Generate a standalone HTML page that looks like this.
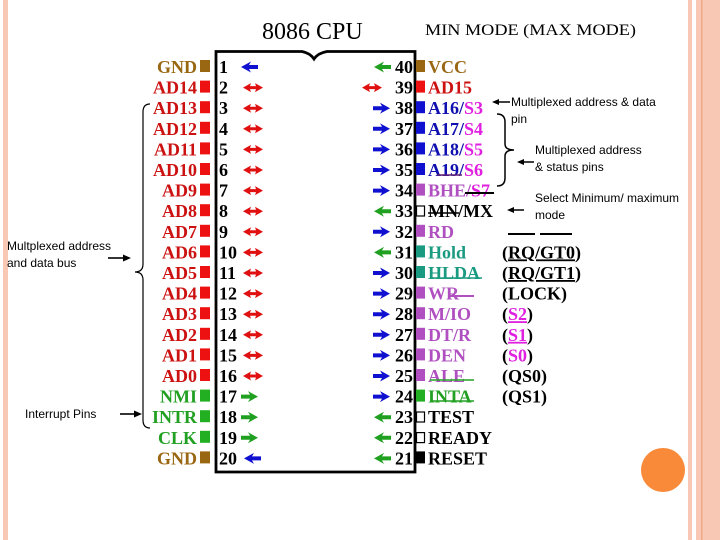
<!DOCTYPE html>
<html><head><meta charset="utf-8"><style>
html,body{margin:0;padding:0;background:#fff;}
svg{display:block}
text{font-family:"Liberation Serif",serif;}
.l{font-weight:bold;font-size:18px;text-anchor:end}
.r{font-weight:bold;font-size:18px}
.n{font-weight:bold;font-size:18px;fill:#000}
.s{font-family:"Liberation Sans",sans-serif;font-size:12px;fill:#000}
</style></head><body>
<svg width="720" height="540" viewBox="0 0 720 540" xmlns="http://www.w3.org/2000/svg">
<defs>
<g id="bi"><path d="M0 0 L8 -4.5 L7 -1.5 L13 -1.5 L12 -4.5 L20 0 L12 4.5 L13 1.5 L7 1.5 L8 4.5 Z" fill="#e01010"/></g>
<g id="rb"><path d="M0 -2 L9 -2 L7 -5.5 L17 0 L7 5.5 L9 2 L0 2 Z" fill="#1010d0"/></g>
<g id="rg"><path d="M0 -2 L9 -2 L7 -5.5 L17 0 L7 5.5 L9 2 L0 2 Z" fill="#20a020"/></g>
<g id="lg"><path d="M17 -2 L8 -2 L10 -5.5 L0 0 L10 5.5 L8 2 L17 2 Z" fill="#20a020"/></g>
<g id="lb"><path d="M17 -2 L8 -2 L10 -5.5 L0 0 L10 5.5 L8 2 L17 2 Z" fill="#1010d0"/></g>
</defs>
<!-- decorations -->
<rect x="3" y="0" width="5" height="540" fill="#f8c8b4"/>
<rect x="688" y="0" width="4" height="540" fill="#f8c8b4"/>
<rect x="696" y="0" width="24" height="540" fill="#f8c8b4"/>
<rect x="701" y="0" width="1.5" height="540" fill="#f0a888"/>
<circle cx="663" cy="470" r="22" fill="#f98a3a"/>
<!-- titles -->
<text x="262" y="39" font-size="24" fill="#000">8086 CPU</text>
<text x="425" y="35" font-size="15.5" fill="#000" textLength="211" lengthAdjust="spacingAndGlyphs">MIN MODE (MAX MODE)</text>
<!-- chip -->
<path d="M216 51.5 L302 51.5 Q310 53 314 59 Q318 53 327 51.5 L415 51.5 L415 472 L216 472 Z" fill="none" stroke="#000" stroke-width="2.8"/>
<!-- left labels -->
<text class="l" x="197" y="73" fill="#996611">GND</text>
<text class="l" x="197" y="93.6" fill="#cc1111">AD14</text>
<text class="l" x="197" y="114.2" fill="#cc1111">AD13</text>
<text class="l" x="197" y="134.8" fill="#cc1111">AD12</text>
<text class="l" x="197" y="155.4" fill="#cc1111">AD11</text>
<text class="l" x="197" y="176" fill="#cc1111">AD10</text>
<text class="l" x="197" y="196.6" fill="#cc1111">AD9</text>
<text class="l" x="197" y="217.2" fill="#cc1111">AD8</text>
<text class="l" x="197" y="237.8" fill="#cc1111">AD7</text>
<text class="l" x="197" y="258.4" fill="#cc1111">AD6</text>
<text class="l" x="197" y="279" fill="#cc1111">AD5</text>
<text class="l" x="197" y="299.6" fill="#cc1111">AD4</text>
<text class="l" x="197" y="320.2" fill="#cc1111">AD3</text>
<text class="l" x="197" y="340.8" fill="#cc1111">AD2</text>
<text class="l" x="197" y="361.4" fill="#cc1111">AD1</text>
<text class="l" x="197" y="382" fill="#cc1111">AD0</text>
<text class="l" x="197" y="402.6" fill="#22a022">NMI</text>
<text class="l" x="197" y="423.2" fill="#22a022">INTR</text>
<text class="l" x="197" y="443.8" fill="#22a022">CLK</text>
<text class="l" x="197" y="464.4" fill="#996611">GND</text>
<!-- left squares -->
<rect x="200" y="60" width="10" height="12" fill="#996611"/>
<g fill="#ee1111">
<rect x="200" y="80.6" width="10" height="12"/><rect x="200" y="101.2" width="10" height="12"/>
<rect x="200" y="121.8" width="10" height="12"/><rect x="200" y="142.4" width="10" height="12"/>
<rect x="200" y="163" width="10" height="12"/><rect x="200" y="183.6" width="10" height="12"/>
<rect x="200" y="204.2" width="10" height="12"/><rect x="200" y="224.8" width="10" height="12"/>
<rect x="200" y="245.4" width="10" height="12"/><rect x="200" y="266" width="10" height="12"/>
<rect x="200" y="286.6" width="10" height="12"/><rect x="200" y="307.2" width="10" height="12"/>
<rect x="200" y="327.8" width="10" height="12"/><rect x="200" y="348.4" width="10" height="12"/>
<rect x="200" y="369" width="10" height="12"/>
</g>
<g fill="#22b022"><rect x="200" y="389.6" width="10" height="12"/><rect x="200" y="410.2" width="10" height="12"/><rect x="200" y="430.8" width="10" height="12"/></g>
<rect x="200" y="451.4" width="10" height="12" fill="#996611"/>
<!-- left numbers -->
<text class="n" x="219" y="73">1</text><text class="n" x="219" y="93.6">2</text><text class="n" x="219" y="114.2">3</text>
<text class="n" x="219" y="134.8">4</text><text class="n" x="219" y="155.4">5</text><text class="n" x="219" y="176">6</text>
<text class="n" x="219" y="196.6">7</text><text class="n" x="219" y="217.2">8</text><text class="n" x="219" y="237.8">9</text>
<text class="n" x="219" y="258.4">10</text><text class="n" x="219" y="279">11</text><text class="n" x="219" y="299.6">12</text>
<text class="n" x="219" y="320.2">13</text><text class="n" x="219" y="340.8">14</text><text class="n" x="219" y="361.4">15</text>
<text class="n" x="219" y="382">16</text><text class="n" x="219" y="402.6">17</text><text class="n" x="219" y="423.2">18</text>
<text class="n" x="219" y="443.8">19</text><text class="n" x="219" y="464.4">20</text>
<!-- left arrows -->
<use href="#lb" x="241" y="67"/>
<use href="#bi" x="243" y="87.6"/><use href="#bi" x="243" y="108.2"/><use href="#bi" x="243" y="128.8"/>
<use href="#bi" x="243" y="149.4"/><use href="#bi" x="243" y="170"/><use href="#bi" x="243" y="190.6"/>
<use href="#bi" x="243" y="211.2"/><use href="#bi" x="243" y="231.8"/><use href="#bi" x="243" y="252.4"/>
<use href="#bi" x="243" y="273"/><use href="#bi" x="243" y="293.6"/><use href="#bi" x="243" y="314.2"/>
<use href="#bi" x="243" y="334.8"/><use href="#bi" x="243" y="355.4"/><use href="#bi" x="243" y="376"/>
<use href="#rg" x="241" y="396.6"/><use href="#rg" x="241" y="417.2"/><use href="#rg" x="241" y="437.8"/>
<use href="#lb" x="244" y="458.4"/>
<!-- right numbers -->
<g text-anchor="end">
<text class="n" x="413" y="73">40</text><text class="n" x="413" y="93.6">39</text><text class="n" x="413" y="114.2">38</text>
<text class="n" x="413" y="134.8">37</text><text class="n" x="413" y="155.4">36</text><text class="n" x="413" y="176">35</text>
<text class="n" x="413" y="196.6">34</text><text class="n" x="413" y="217.2">33</text><text class="n" x="413" y="237.8">32</text>
<text class="n" x="413" y="258.4">31</text><text class="n" x="413" y="279">30</text><text class="n" x="413" y="299.6">29</text>
<text class="n" x="413" y="320.2">28</text><text class="n" x="413" y="340.8">27</text><text class="n" x="413" y="361.4">26</text>
<text class="n" x="413" y="382">25</text><text class="n" x="413" y="402.6">24</text><text class="n" x="413" y="423.2">23</text>
<text class="n" x="413" y="443.8">22</text><text class="n" x="413" y="464.4">21</text>
</g>
<!-- right arrows -->
<use href="#lg" x="374" y="67"/>
<use href="#bi" x="362" y="87.6"/>
<use href="#rb" x="373" y="108.2"/><use href="#rb" x="373" y="128.8"/><use href="#rb" x="373" y="149.4"/>
<use href="#rb" x="373" y="170"/><use href="#rb" x="373" y="190.6"/>
<use href="#lg" x="374" y="211.2"/>
<use href="#rb" x="373" y="231.8"/>
<use href="#lg" x="374" y="252.4"/>
<use href="#rb" x="373" y="273"/><use href="#rb" x="373" y="293.6"/><use href="#rb" x="373" y="314.2"/>
<use href="#rb" x="373" y="334.8"/><use href="#rb" x="373" y="355.4"/><use href="#rb" x="373" y="376"/>
<use href="#rb" x="373" y="396.6"/>
<use href="#lg" x="374" y="417.2"/><use href="#lg" x="374" y="437.8"/><use href="#lg" x="374" y="458.4"/>
<!-- right squares -->
<rect x="416" y="60" width="9" height="12" fill="#996611"/>
<rect x="416" y="80.6" width="9" height="12" fill="#ee1111"/>
<g fill="#1010d0"><rect x="416" y="101.2" width="9" height="12"/><rect x="416" y="121.8" width="9" height="12"/><rect x="416" y="142.4" width="9" height="12"/><rect x="416" y="163" width="9" height="12"/></g>
<rect x="416" y="183.6" width="9" height="12" fill="#b050c0"/>
<rect x="416.5" y="206" width="8" height="10" fill="#fff" stroke="#000" stroke-width="1.2"/>
<rect x="416" y="224.8" width="9" height="12" fill="#b050c0"/>
<rect x="416" y="245.4" width="9" height="12" fill="#1a9a80"/>
<rect x="416" y="266" width="9" height="12" fill="#1a9a80"/>
<g fill="#b050c0"><rect x="416" y="286.6" width="9" height="12"/><rect x="416" y="307.2" width="9" height="12"/><rect x="416" y="327.8" width="9" height="12"/><rect x="416" y="348.4" width="9" height="12"/><rect x="416" y="369" width="9" height="12"/></g>
<rect x="416" y="389.6" width="9" height="12" fill="#22b022"/>
<rect x="416.5" y="412" width="8" height="10" fill="#fff" stroke="#000" stroke-width="1.2"/>
<rect x="416.5" y="432.6" width="8" height="10" fill="#fff" stroke="#000" stroke-width="1.2"/>
<rect x="416" y="451.4" width="9" height="12" fill="#000"/>
<!-- right labels -->
<text class="r" x="428" y="73" fill="#996611">VCC</text>
<text class="r" x="428" y="93.6" fill="#cc1111">AD15</text>
<text class="r" x="428" y="114.2" fill="#1010b0">A16/<tspan fill="#e020e0">S3</tspan></text>
<text class="r" x="428" y="134.8" fill="#1010b0">A17/<tspan fill="#e020e0">S4</tspan></text>
<text class="r" x="428" y="155.4" fill="#1010b0">A18/<tspan fill="#e020e0">S5</tspan></text>
<text class="r" x="428" y="176" fill="#1010b0">A19/<tspan fill="#e020e0">S6</tspan></text>
<line x1="437" y1="175" x2="462" y2="175" stroke="#602070" stroke-width="1.5"/>
<text class="r" x="428" y="196.6" fill="#b050c0">BHE/<tspan fill="#e020e0">S7</tspan></text>
<line x1="465" y1="193" x2="494" y2="193" stroke="#000" stroke-width="2"/>
<text class="r" x="428" y="217.2" fill="#000">MN/MX</text>
<line x1="428" y1="213" x2="459" y2="213" stroke="#000" stroke-width="1.5"/>
<text class="r" x="428" y="237.8" fill="#b050c0">RD</text>
<text class="r" x="428" y="258.4" fill="#1a9a80">Hold</text>
<text class="r" x="428" y="279" fill="#1a9a80">HLDA</text>
<line x1="430" y1="278" x2="482" y2="278" stroke="#1a9a80" stroke-width="1.5"/>
<text class="r" x="428" y="299.6" fill="#b050c0">WR</text>
<line x1="448" y1="296" x2="474" y2="296" stroke="#b050c0" stroke-width="2"/>
<text class="r" x="428" y="320.2" fill="#b050c0">M/IO</text>
<text class="r" x="428" y="340.8" fill="#b050c0">DT/R</text>
<text class="r" x="428" y="361.4" fill="#b050c0">DEN</text>
<text class="r" x="428" y="382" fill="#b050c0">ALE</text>
<line x1="430" y1="380" x2="474" y2="380" stroke="#22a022" stroke-width="1.5"/>
<text class="r" x="428" y="402.6" fill="#22a022">INTA</text>
<line x1="430" y1="401" x2="474" y2="401" stroke="#22a022" stroke-width="1.5"/>
<text class="r" x="428" y="423.2" fill="#000">TEST</text>
<text class="r" x="428" y="443.8" fill="#000">READY</text>
<text class="r" x="428" y="464.4" fill="#000">RESET</text>
<!-- max mode column -->
<line x1="508" y1="234" x2="535" y2="234" stroke="#000" stroke-width="2"/>
<line x1="540" y1="234" x2="572" y2="234" stroke="#000" stroke-width="2"/>
<text class="r" x="502" y="258.4" fill="#000">(<tspan text-decoration="underline">RQ/GT0</tspan>)</text>
<text class="r" x="502" y="279" fill="#000">(<tspan text-decoration="underline">RQ/GT1</tspan>)</text>
<text class="r" x="502" y="299.6" fill="#000">(LOCK)</text>
<text class="r" x="502" y="320.2" fill="#000">(<tspan fill="#e020e0" text-decoration="underline">S2</tspan>)</text>
<text class="r" x="502" y="340.8" fill="#000">(<tspan fill="#e020e0" text-decoration="underline">S1</tspan>)</text>
<text class="r" x="502" y="361.4" fill="#000">(<tspan fill="#e020e0">S0</tspan>)</text>
<text class="r" x="502" y="382" fill="#000">(QS0)</text>
<text class="r" x="502" y="402.6" fill="#000">(QS1)</text>
<!-- annotations right -->
<g stroke="#000" stroke-width="1.5" fill="none">
<line x1="497" y1="102" x2="510" y2="102"/>
<path d="M497 114 Q505 114 505 122 L505 144 Q505 150 514 150 Q505 150 505 156 L505 178 Q505 186 497 186"/>
<line x1="522" y1="162" x2="534" y2="162"/>
<line x1="512" y1="210" x2="524" y2="210"/>
</g>
<g fill="#000">
<path d="M492 102 L499 99 L499 105 Z"/>
<path d="M517 162 L524 159 L524 165 Z"/>
<path d="M507 210 L514 207 L514 213 Z"/>
</g>
<text class="s" x="511" y="106">Multiplexed address &amp; data</text>
<text class="s" x="511" y="123">pin</text>
<text class="s" x="535" y="154">Multiplexed address</text>
<text class="s" x="535" y="171">&amp; status pins</text>
<text class="s" x="535" y="202">Select Minimum/ maximum</text>
<text class="s" x="535" y="219">mode</text>
<!-- annotations left -->
<g stroke="#000" stroke-width="1.2" fill="none">
<path d="M150 104 Q143 104 143 112 L143 264 Q143 272 135 272 Q143 272 143 280 L143 420 Q143 428 150 428"/>
<line x1="108" y1="258" x2="124" y2="258" stroke-width="1.6"/>
<line x1="120" y1="414" x2="135" y2="414" stroke-width="1.6"/>
</g>
<path d="M131 258 L123 254.5 L123 261.5 Z" fill="#000"/>
<path d="M142 414 L134 410.5 L134 417.5 Z" fill="#000"/>
<text class="s" x="7" y="250">Multplexed address</text>
<text class="s" x="7" y="267">and data bus</text>
<text class="s" x="25" y="418">Interrupt Pins</text>
</svg>
</body></html>
